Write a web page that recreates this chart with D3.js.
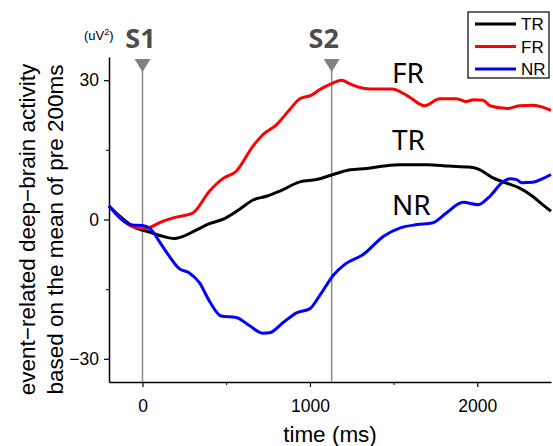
<!DOCTYPE html>
<html>
<head>
<meta charset="utf-8">
<script src="https://cdn.jsdelivr.net/npm/d3@7"></script>
<style>
  html, body { margin: 0; padding: 0; background: #fff; }
  svg { display: block; }
  text { font-family: "Liberation Sans", Arial, sans-serif; }
</style>
</head>
<body>
<svg id="chart" width="553" height="446"></svg>
<script>
// ---- data (time in ms, value in uV^2) ----
const seriesNames = ["TR", "FR", "NR"];
const seriesColors = ["#000000", "#ff0000", "#0000ff"];

const trData = [[-200,2.9],[-40,-1.8],[40,-2.7],[120,-3.6],[190,-4.1],[230,-3.8],[320,-2.3],[400,-0.9],[490,0.2],[580,2.2],[660,4.2],[740,5.0],[820,6.1],[940,8.1],[1040,8.6],[1140,9.7],[1240,10.7],[1340,11.0],[1440,11.5],[1540,11.8],[1700,11.8],[1830,11.5],[1950,11.3],[2010,10.8],[2090,9.0],[2170,7.9],[2250,6.8],[2330,5.0],[2390,3.2],[2440,1.8]];

const frData = [[-200,2.9],[-40,-1.8],[10,-2.0],[120,-0.4],[200,0.5],[300,1.4],[400,6.1],[480,8.8],[560,10.4],[660,15.8],[720,18.3],[800,20.4],[880,23.7],[940,26.0],[1010,26.8],[1060,28.0],[1120,29.1],[1190,30.0],[1240,29.2],[1290,28.5],[1360,28.1],[1490,28.1],[1580,26.7],[1685,24.5],[1775,26.0],[1875,26.0],[1935,25.4],[1975,25.8],[2035,25.7],[2075,24.5],[2180,23.9],[2250,24.5],[2330,24.6],[2390,24.2],[2440,23.5]];

const nrData = [[-200,2.9],[-60,-1.2],[0,-1.3],[50,-2.1],[100,-4.7],[160,-7.9],[220,-10.6],[280,-11.5],[340,-13.6],[400,-17.6],[470,-20.8],[560,-21.1],[640,-22.9],[720,-24.5],[760,-24.4],[840,-22.2],[920,-20.1],[1000,-19.2],[1060,-16.3],[1140,-12.0],[1210,-9.6],[1320,-7.5],[1440,-3.6],[1540,-1.8],[1640,-1.1],[1735,-0.7],[1815,1.4],[1915,3.7],[2005,3.2],[2075,5.0],[2155,8.2],[2195,8.8],[2235,8.6],[2265,7.9],[2330,8.0],[2390,8.8],[2440,9.7]];

const stimTimes = [0, 1130];
const stimLabels = ["S1", "S2"];

const xMajorTicks = [0, 1000, 2000];
const xMinorTicks = [500, 1500];
const yMajorTicks = [-30, 0, 30];
const yMinorTicks = [-15, 15];

// in-plot labels: [name, time anchor, value anchor]
const inlineLabels = [["FR", 1490, 29.4], ["TR", 1490, 15.0], ["NR", 1490, 1.0]];

// ---- layout ----
const svg = d3.select("#chart");
const x = d3.scaleLinear().domain([-200, 2440]).range([109, 551]);
const y = d3.scaleLinear().domain([-35, 35]).range([382, 57]);

const tickFont = "17.5px 'Liberation Sans', Arial, sans-serif";
const titleFont = "22.5px 'Liberation Sans', Arial, sans-serif";

// axes
const yAxis = svg.append("g").attr("transform", `translate(${x.range()[0]},0)`)
  .call(d3.axisLeft(y).tickValues(yMajorTicks).tickSize(5).tickSizeOuter(0)
    .tickFormat(d => d < 0 ? "\u2212" + Math.abs(d) : String(d)));
yAxis.select(".domain").attr("stroke", "#000").attr("stroke-width", 1.5);
yAxis.selectAll(".tick line").attr("stroke-width", 1.2);
yAxis.selectAll(".tick text").style("font", tickFont).attr("fill", "#000").attr("x", -10);
svg.append("g").attr("transform", `translate(${x.range()[0]},0)`)
  .call(d3.axisLeft(y).tickValues(yMinorTicks).tickSize(3).tickFormat(""))
  .call(g => g.select(".domain").remove());

const xAxis = svg.append("g").attr("transform", `translate(0,${y.range()[0]})`)
  .call(d3.axisBottom(x).tickValues(xMajorTicks).tickSize(5).tickSizeOuter(0)
    .tickFormat(d => String(d)));
xAxis.select(".domain").attr("stroke", "#000").attr("stroke-width", 1.5);
xAxis.selectAll(".tick line").attr("stroke-width", 1.2);
xAxis.selectAll(".tick text").style("font", tickFont).attr("fill", "#000").attr("y", 18);
svg.append("g").attr("transform", `translate(0,${y.range()[0]})`)
  .call(d3.axisBottom(x).tickValues(xMinorTicks).tickSize(3).tickFormat(""))
  .call(g => g.select(".domain").remove());

// axis titles
svg.append("text").attr("x", 330).attr("y", 442).attr("text-anchor", "middle")
  .style("font", titleFont).text("time (ms)");

const yMid = 229.5;
svg.append("text").attr("transform", `translate(35,${yMid}) rotate(-90)`).attr("text-anchor", "middle")
  .style("font", titleFont).text("event\u2212related deep\u2212brain activity");
svg.append("text").attr("transform", `translate(62.5,${yMid}) rotate(-90)`).attr("text-anchor", "middle")
  .style("font", titleFont).text("based on the mean of pre 200ms");

// unit
const unit = svg.append("text").attr("x", 84).attr("y", 40)
  .style("font", "13px 'Liberation Sans', Arial, sans-serif");
unit.append("tspan").text("(uV");
unit.append("tspan").attr("dy", -5).style("font-size", "9px").text("2");
unit.append("tspan").attr("dy", 5).text(")");

// stimulus markers
stimTimes.forEach((t, i) => {
  const sx = x(t);
  svg.append("line").attr("x1", sx).attr("x2", sx).attr("y1", 60).attr("y2", y.range()[0])
    .attr("stroke", "#8a8a8a").attr("stroke-width", 1.5);
  svg.append("path").attr("d", `M${sx - 8},59 L${sx + 8},59 L${sx},72 Z`).attr("fill", "#808080");
  svg.append("text").attr("x", sx + (i === 0 ? -2 : -8)).attr("y", 48).attr("text-anchor", "middle")
    .style("font", "bold 27px 'Noto Sans', 'Liberation Sans', sans-serif").attr("fill", "#4d4d4d")
    .text(stimLabels[i]);
});

// lines
const line = d3.line().x(d => x(d[0])).y(d => y(d[1])).curve(d3.curveMonotoneX);
const allData = [trData, frData, nrData];
allData.forEach((data, i) => {
  svg.append("path").datum(data).attr("d", line).attr("fill", "none")
    .attr("stroke", seriesColors[i]).attr("stroke-width", 3).attr("stroke-linejoin", "round");
});

// inline labels
inlineLabels.forEach(([name, t, v]) => {
  svg.append("text").attr("x", x(t)).attr("y", y(v))
    .style("font", "28px 'Noto Sans', 'Liberation Sans', sans-serif").attr("fill", "#000").text(name);
});

// legend
const lg = svg.append("g");
lg.append("rect").attr("x", 468).attr("y", 12).attr("width", 81).attr("height", 66)
  .attr("fill", "#fff").attr("stroke", "#000").attr("stroke-width", 1.2);
seriesNames.forEach((name, i) => {
  const ly = 24 + i * 22.5;
  lg.append("line").attr("x1", 475).attr("x2", 516).attr("y1", ly).attr("y2", ly)
    .attr("stroke", seriesColors[i]).attr("stroke-width", 3);
  lg.append("text").attr("x", 521).attr("y", ly + 6)
    .style("font", "17px 'Liberation Sans', Arial, sans-serif").text(name);
});
</script>
</body>
</html>
